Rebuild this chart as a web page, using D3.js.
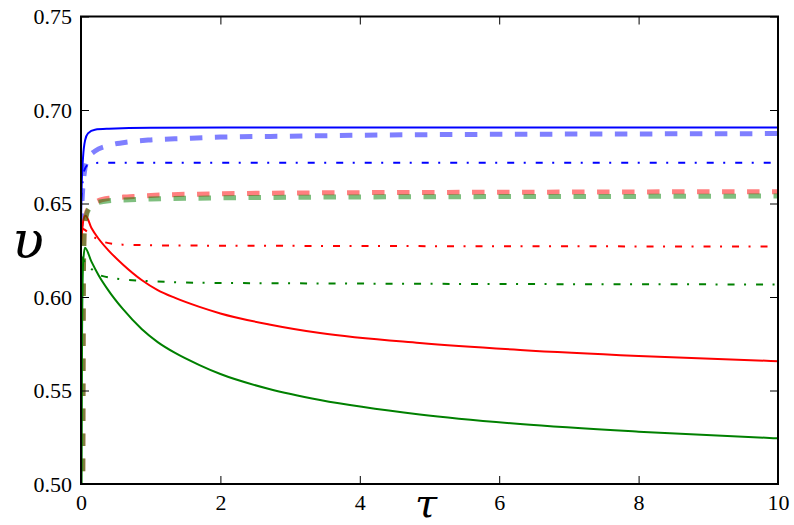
<!DOCTYPE html>
<html>
<head>
<meta charset="utf-8">
<script src="https://cdn.jsdelivr.net/npm/d3@7"></script>
<style>
  html, body { margin: 0; padding: 0; background: #ffffff; }
  svg { display: block; }
  .tick text { font-family: "Liberation Serif", serif; font-size: 22px; fill: #000; }
  .lbl { font-family: "DejaVu Serif", serif; font-style: italic; }
</style>
</head>
<body>
<svg id="chart" width="794" height="525"></svg>
<script>
// ---------- data ----------
const xTicks = [0, 2, 4, 6, 8, 10];
const yTicks = [0.50, 0.55, 0.60, 0.65, 0.70, 0.75];

const blueSolidT = [0, 0.01, 0.03, 0.06, 0.1, 0.2, 0.4, 1, 3, 10];
const blueSolidV = [0.640, 0.660, 0.675, 0.684, 0.6875, 0.6895, 0.6900, 0.6905, 0.6906, 0.6906];

const blueDashT = [0, 0.02, 0.05, 0.1, 0.2, 0.4, 0.7, 1, 1.5, 2, 3, 4, 6, 8, 10];
const blueDashV = [0.638, 0.655, 0.667, 0.674, 0.678, 0.681, 0.683, 0.684, 0.6848, 0.6855, 0.686, 0.6865, 0.687, 0.6872, 0.6874];

const blueDotT = [0, 0.05, 0.12, 0.3, 10];
const blueDotV = [0.652, 0.668, 0.6712, 0.6718, 0.6718];

const redSolidT = [0, 0.02, 0.04, 0.067, 0.15, 0.25, 0.39, 0.6, 0.87, 1.1, 1.35, 1.7, 2, 2.7, 3.43, 4.86, 6.3, 8, 10];
const redSolidV = [0.627, 0.637, 0.642, 0.6435, 0.6369, 0.6313, 0.6251, 0.6174, 0.6091, 0.6037, 0.5995, 0.5947, 0.5912, 0.5853, 0.5807, 0.5754, 0.5717, 0.5685, 0.5657];

const redDashT = [0, 0.025, 0.03, 0.035, 0.05, 0.08, 0.12, 0.2, 0.4, 0.7, 1, 2, 4, 6, 8, 10];
const redDashV = [0.40, 0.50, 0.56, 0.615, 0.638, 0.645, 0.648, 0.6505, 0.6528, 0.6536, 0.6543, 0.6552, 0.6558, 0.656, 0.6562, 0.6563];

const redDotT = [0, 0.05, 0.15, 0.3, 0.6, 1.5, 10];
const redDotV = [0.637, 0.636, 0.633, 0.6297, 0.628, 0.6275, 0.627];

const greenSolidT = [0, 0.015, 0.03, 0.057, 0.15, 0.25, 0.39, 0.6, 0.87, 1.1, 1.35, 1.7, 2, 2.7, 3.43, 4.86, 6.3, 8, 10];
const greenSolidV = [0.40, 0.58, 0.618, 0.6264, 0.6189, 0.6118, 0.6037, 0.5936, 0.5829, 0.5759, 0.5701, 0.5636, 0.5588, 0.5508, 0.5449, 0.5372, 0.5321, 0.5280, 0.5244];

const greenDashT = [0, 0.025, 0.03, 0.035, 0.05, 0.08, 0.12, 0.2, 0.4, 0.7, 1, 2, 4, 6, 8, 10];
const greenDashV = [0.40, 0.50, 0.56, 0.615, 0.637, 0.644, 0.6475, 0.650, 0.6515, 0.652, 0.6524, 0.653, 0.6535, 0.6537, 0.6538, 0.654];

const greenDotT = [0, 0.05, 0.15, 0.3, 0.87, 2, 10];
const greenDotV = [0.622, 0.619, 0.615, 0.6113, 0.6087, 0.6075, 0.6067];

// ---------- layout ----------
const margin = { left: 81, right: 16, top: 16.5, bottom: 41 };
const W = 794, H = 525;
const svg = d3.select("#chart");

const x = d3.scaleLinear().domain([0, 10]).range([margin.left, W - margin.right]);
const y = d3.scaleLinear().domain([0.50, 0.75]).range([H - margin.bottom, margin.top]);

svg.append("defs").append("clipPath").attr("id", "plotclip")
  .append("rect")
  .attr("x", x(0)).attr("y", y(0.75))
  .attr("width", x(10) - x(0)).attr("height", y(0.50) - y(0.75));

const series = [
  { t: blueSolidT,  v: blueSolidV,  color: "#0000ff", w: 2,   op: 1,   dash: null },
  { t: blueDashT,   v: blueDashV,   color: "#0000ff", w: 5,   op: 0.5, dash: "12.5,12.5" },
  { t: blueDotT,    v: blueDotV,    color: "#0000ff", w: 2,   op: 1,   dash: "7,9.5,2,10" },
  { t: redSolidT,   v: redSolidV,   color: "#ff0000", w: 2,   op: 1,   dash: null },
  { t: redDashT,    v: redDashV,    color: "#ff0000", w: 5,   op: 0.5, dash: "12.5,12.5" },
  { t: redDotT,     v: redDotV,     color: "#ff0000", w: 2,   op: 1,   dash: "7,9.5,2,10" },
  { t: greenSolidT, v: greenSolidV, color: "#008000", w: 2,   op: 1,   dash: null },
  { t: greenDashT,  v: greenDashV,  color: "#008000", w: 5,   op: 0.5, dash: "12.5,12.5" },
  { t: greenDotT,   v: greenDotV,   color: "#008000", w: 2,   op: 1,   dash: "7,9.5,2,10" }
];

const line = d3.line()
  .x(d => x(d[0]))
  .y(d => y(d[1]))
  .curve(d3.curveMonotoneX);

const plot = svg.append("g").attr("clip-path", "url(#plotclip)");
series.forEach(s => {
  const pts = s.t.map((t, i) => [t, s.v[i]]);
  plot.append("path")
    .attr("d", line(pts))
    .attr("fill", "none")
    .attr("stroke", s.color)
    .attr("stroke-width", s.w)
    .attr("stroke-opacity", s.op)
    .attr("stroke-dasharray", s.dash)
    .attr("stroke-linecap", "butt")
    .attr("stroke-linejoin", "round");
});

// ---------- axes (ticks inward on all four sides) ----------
const gx = svg.append("g").attr("transform", `translate(0,${y(0.50)})`)
  .call(d3.axisBottom(x).tickValues(xTicks).tickSize(-8).tickPadding(10).tickFormat(d3.format("d")));
const gy = svg.append("g").attr("transform", `translate(${x(0)},0)`)
  .call(d3.axisLeft(y).tickValues(yTicks).tickSize(-8).tickPadding(9).tickFormat(d3.format(".2f")));
const gt = svg.append("g").attr("transform", `translate(0,${y(0.75)})`)
  .call(d3.axisTop(x).tickValues(xTicks).tickSize(-8).tickFormat(""));
const gr = svg.append("g").attr("transform", `translate(${x(10)},0)`)
  .call(d3.axisRight(y).tickValues(yTicks).tickSize(-8).tickFormat(""));

[gx, gy, gt, gr].forEach(g => {
  g.attr("font-family", null).attr("font-size", null);
  g.select(".domain").remove();
  g.selectAll(".tick line").attr("stroke", "#000").attr("stroke-width", 1);
});

// frame
svg.append("rect")
  .attr("x", x(0)).attr("y", y(0.75))
  .attr("width", x(10) - x(0)).attr("height", y(0.50) - y(0.75))
  .attr("fill", "none").attr("stroke", "#000").attr("stroke-width", 2);

// axis labels
svg.append("text")
  .attr("class", "lbl")
  .attr("x", 28).attr("y", 258)
  .attr("text-anchor", "middle")
  .style("font-size", "52px")
  .text("υ");

svg.append("text")
  .attr("class", "lbl")
  .attr("x", 426).attr("y", 517)
  .attr("text-anchor", "middle")
  .style("font-size", "40px")
  .text("τ");
</script>
</body>
</html>
